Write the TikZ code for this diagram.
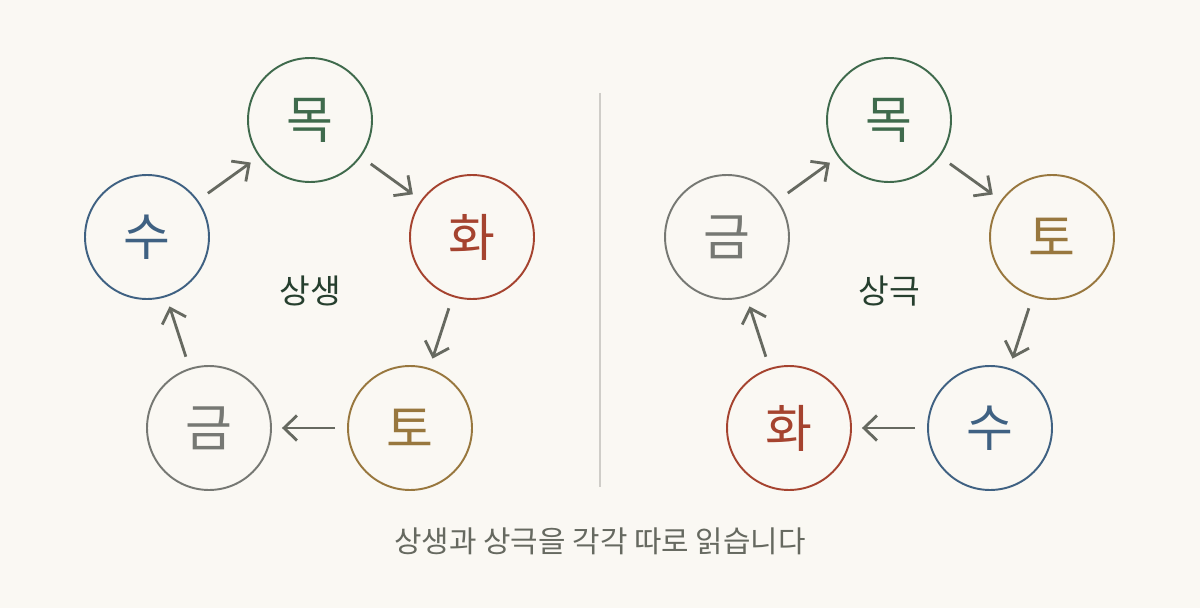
\documentclass[tikz,border=0pt]{standalone}
\usepackage{fontspec}
\setmainfont{Noto Sans CJK KR}
\usetikzlibrary{arrows.meta}
\definecolor{bg}{HTML}{FAF8F3}
\definecolor{cmok}{HTML}{3F6A4C}
\definecolor{chwa}{HTML}{A5432F}
\definecolor{cto}{HTML}{98773E}
\definecolor{cgeum}{HTML}{767873}
\definecolor{csu}{HTML}{3F6182}
\definecolor{carr}{HTML}{666960}
\definecolor{cline}{HTML}{CFCDC8}
\tikzset{
  elem/.style={draw=#1,circle,minimum size=2.48cm,line width=1.1pt,text=#1,font=\fontsize{29}{29}\selectfont},
  flow/.style={-{Straight Barb[length=2.6mm,width=5mm]},draw=carr,line width=1.6pt,shorten <=0.24cm,shorten >=0.2cm}
}
\begin{document}
\begin{tikzpicture}[x=0.02cm,y=-0.02cm]
		\fill[bg] (0,0) rectangle (1200,608);
		\useasboundingbox (0,0) rectangle (1200,608);
		%Nodos
		\node [elem=cmok] (mokA) at (310,120) {목};
		\node [elem=chwa] (hwaA) at (472,237) {화};
		\node [elem=cto] (toA) at (410,428) {토};
		\node [elem=cgeum] (geumA) at (209,428) {금};
		\node [elem=csu] (suA) at (147,237) {수};
		\node [text=cmok!60!black,font=\fontsize{19}{19}\selectfont] (saengsaeng) at (310,291) {상생};

		\node [elem=cmok] (mokB) at (889,120) {목};
		\node [elem=cto] (toB) at (1052,237) {토};
		\node [elem=csu] (suB) at (990,428) {수};
		\node [elem=chwa] (hwaB) at (789,428) {화};
		\node [elem=cgeum] (geumB) at (727,237) {금};
		\node [text=cmok!60!black,font=\fontsize{19}{19}\selectfont] (sanggeuk) at (889,291) {상극};

		\coordinate (divTop) at (600,93);
		\coordinate (divBot) at (600,487);
		\draw[cline,line width=1pt] (divTop)--(divBot);
		\node [text=carr,font=\fontsize{17}{17}\selectfont] (caption) at (600,541) {상생과 상극을 각각 따로 읽습니다};

		%Arcos
		\draw[flow] (suA)--(mokA);
		\draw[flow] (mokA)--(hwaA);
		\draw[flow] (hwaA)--(toA);
		\draw[flow] (toA)--(geumA);
		\draw[flow] (geumA)--(suA);
		\draw[flow] (geumB)--(mokB);
		\draw[flow] (mokB)--(toB);
		\draw[flow] (toB)--(suB);
		\draw[flow] (suB)--(hwaB);
		\draw[flow] (hwaB)--(geumB);
\end{tikzpicture}
\end{document}
